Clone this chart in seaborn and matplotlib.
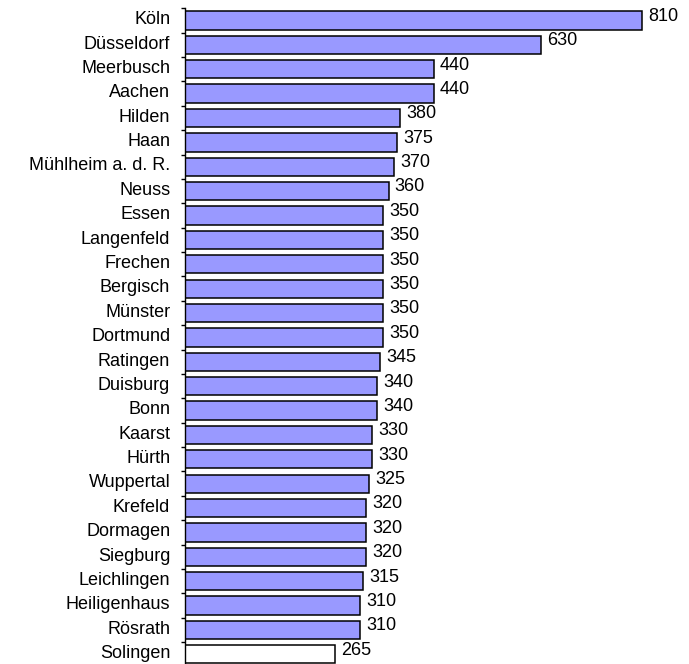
import numpy as np
import pandas as pd
import matplotlib
matplotlib.use("Agg")
import matplotlib.pyplot as plt
import matplotlib.transforms as mtransforms
import seaborn as sns

cities = ["Köln", "Düsseldorf", "Meerbusch", "Aachen", "Hilden", "Haan",
          "Mühlheim a. d. R.", "Neuss", "Essen", "Langenfeld", "Frechen",
          "Bergisch", "Münster", "Dortmund", "Ratingen", "Duisburg", "Bonn",
          "Kaarst", "Hürth", "Wuppertal", "Krefeld", "Dormagen", "Siegburg",
          "Leichlingen", "Heiligenhaus", "Rösrath", "Solingen"]
values = [810, 630, 440, 440, 380, 375, 370, 360, 350, 350, 350, 350, 350,
          350, 345, 340, 340, 330, 330, 325, 320, 320, 320, 315, 310, 310, 265]
highlight = "Solingen"

sns.set_style("white")
plt.rcParams["font.family"] = ["Liberation Sans", "DejaVu Sans"]

df = pd.DataFrame({"city": cities, "value": values})
palette = {c: ("#FFFFFF" if c == highlight else "#9999FF") for c in cities}

fig = plt.figure(figsize=(6.89, 6.64), dpi=100)
ax = fig.add_axes([0.2692, -0.0038, 0.7367, 0.9913])

sns.barplot(data=df, x="value", y="city", hue="city", palette=palette,
            legend=False, edgecolor="black", linewidth=1.1, width=0.75,
            saturation=1, ax=ax)

ax.set_xlim(0, 900)
ax.set_ylim(len(cities) - 0.5, -0.5)
ax.set_xlabel("")
ax.set_ylabel("")
ax.set_xticks([])

for s in ["top", "right", "bottom"]:
    ax.spines[s].set_visible(False)
ax.spines["left"].set_color("black")
ax.spines["left"].set_linewidth(1.0)

ax.set_yticks(range(len(cities)))
ax.set_yticklabels(cities, fontsize=13, color="#000000")
ax.tick_params(axis="y", which="major", left=True, length=0, pad=11)
ax.set_yticks(np.arange(-0.5, len(cities), 1.0), minor=True)
ax.tick_params(axis="y", which="minor", left=True, length=3, width=1.0,
               color="black", direction="out")

# nudge the city names slightly upward
shift = mtransforms.ScaledTranslation(0, 2 / 72, fig.dpi_scale_trans)
for lbl in ax.get_yticklabels():
    lbl.set_transform(lbl.get_transform() + shift)

for i, v in enumerate(values):
    ax.annotate(f"{v}", xy=(v, i), xytext=(4.5, 3), textcoords="offset points",
                va="center", ha="left", fontsize=13, color="#000000")

fig.savefig("out.png", dpi=100)
